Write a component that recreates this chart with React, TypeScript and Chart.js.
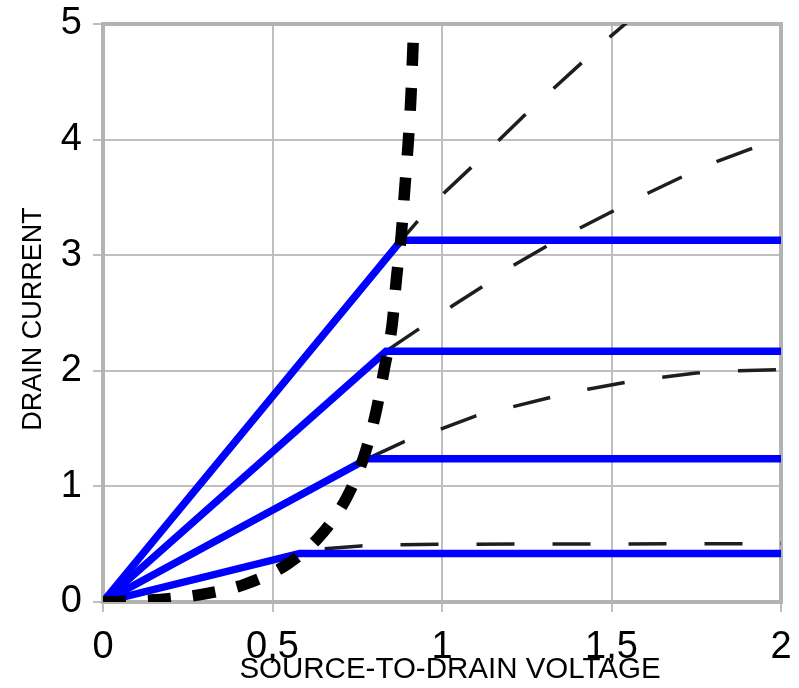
import React, { useEffect, useRef } from 'react';
import { Chart, registerables } from 'chart.js';

Chart.register(...registerables);

// Axis ticks
const xTicks = [0, 0.5, 1, 1.5, 2];
const yTicks = [0, 1, 2, 3, 4, 5];

// Blue saturation curves (solid)
const satX1 = [0, 0.58, 2];
const satY1 = [0, 0.42, 0.42];
const satX2 = [0, 0.78, 2];
const satY2 = [0, 1.24, 1.24];
const satX3 = [0, 0.835, 2];
const satY3 = [0, 2.17, 2.17];
const satX4 = [0, 0.88, 2];
const satY4 = [0, 3.13, 3.13];

// Thin dashed curves (continuation beyond the knee)
const dashX1 = [0, 0.58, 0.65, 0.76, 0.87, 1.0, 2];
const dashY1 = [0, 0.42, 0.46, 0.485, 0.496, 0.5, 0.505];
const dashX2 = [0, 0.78, 0.89, 1.0, 1.1, 1.21, 1.32, 1.43, 1.54, 1.64, 1.75, 1.86, 2];
const dashY2 = [0, 1.24, 1.39, 1.5, 1.61, 1.69, 1.77, 1.84, 1.9, 1.94, 1.98, 2.0, 2.01];
const dashX3 = [0, 0.835, 0.936, 1.03, 1.12, 1.21, 1.31, 1.41, 1.51, 1.61, 1.71, 1.81, 1.92, 2];
const dashY3 = [0, 2.17, 2.37, 2.56, 2.73, 2.91, 3.08, 3.24, 3.39, 3.54, 3.68, 3.81, 3.93, 3.98];
const dashX4 = [0, 0.88, 0.93, 1.01, 1.09, 1.17, 1.25, 1.5, 1.6];
const dashY4 = [0, 3.13, 3.3, 3.55, 3.77, 4.0, 4.23, 4.9, 5.15];

// Thick dashed locus curve
const locusX = [0, 0.1, 0.2, 0.3, 0.42, 0.545, 0.64, 0.72, 0.77, 0.805, 0.83, 0.853, 0.866, 0.88, 0.89, 0.9, 0.908, 0.915];
const locusY = [0, 0.01, 0.03, 0.07, 0.155, 0.33, 0.57, 0.91, 1.26, 1.64, 2.02, 2.4, 2.81, 3.18, 3.57, 3.96, 4.35, 4.85];

const xTitle = 'SOURCE-TO-DRAIN VOLTAGE';
const yTitle = 'DRAIN CURRENT';

const pts = (xs: number[], ys: number[]) => xs.map((x, i) => ({ x, y: ys[i] }));

const FONT = '"Liberation Sans", Arial, sans-serif';
const GRID = '#bfbfbf';

const borderPlugin = {
  id: 'frameBorder',
  beforeDatasetsDraw(chart: any) {
    const { ctx, chartArea } = chart;
    ctx.save();
    ctx.strokeStyle = '#b3b3b3';
    ctx.lineWidth = 4;
    ctx.strokeRect(chartArea.left, chartArea.top, chartArea.right - chartArea.left, chartArea.bottom - chartArea.top);
    ctx.restore();
  },
};

const titlesPlugin = {
  id: 'axisTitles',
  afterDraw(chart: any) {
    const { ctx, chartArea } = chart;
    ctx.save();
    ctx.fillStyle = '#000';
    ctx.textAlign = 'center';
    ctx.textBaseline = 'middle';
    ctx.font = `29.5px ${FONT}`;
    ctx.fillText(xTitle, (chartArea.left + chartArea.right) / 2 + 8, 669.5);
    ctx.translate(34, (chartArea.top + chartArea.bottom) / 2 + 6);
    ctx.rotate(-Math.PI / 2);
    ctx.font = `27px ${FONT}`;
    ctx.fillText(yTitle, 0, 0);
    ctx.restore();
  },
};

export default function App() {
  const ref = useRef<HTMLCanvasElement | null>(null);

  useEffect(() => {
    if (!ref.current) return;
    const thin = (xs: number[], ys: number[]) => ({
      data: pts(xs, ys),
      borderColor: '#1e1e1e',
      borderWidth: 3.5,
      borderDash: [38, 38],
      pointRadius: 0,
      tension: 0,
      order: 2,
      borderCapStyle: 'butt',
    });
    const blue = (xs: number[], ys: number[]) => ({
      data: pts(xs, ys),
      borderColor: '#0000ff',
      borderWidth: 7.5,
      pointRadius: 0,
      tension: 0,
      order: 1,
      borderJoinStyle: 'miter',
    });
    const chart = new Chart(ref.current, {
      type: 'line',
      data: {
        datasets: [
          {
            data: pts(locusX, locusY),
            borderColor: '#000000',
            borderWidth: 11.5,
            borderDash: [23, 22],
            pointRadius: 0,
            cubicInterpolationMode: 'monotone',
            order: 0,
          } as any,
          blue(satX1, satY1),
          blue(satX2, satY2),
          blue(satX3, satY3),
          blue(satX4, satY4),
          thin(dashX1, dashY1),
          thin(dashX2, dashY2),
          thin(dashX3, dashY3),
          thin(dashX4, dashY4),
        ],
      },
      options: {
        animation: false,
        responsive: false,
        devicePixelRatio: 1,
        layout: { padding: { top: 24, right: 18, left: 0, bottom: 0 } },
        plugins: { legend: { display: false }, tooltip: { enabled: false } },
        scales: {
          x: {
            type: 'linear',
            min: 0,
            max: 2,
            afterFit: (s: any) => { s.height = 86; s.paddingLeft = 0; s.paddingRight = 0; },
            afterBuildTicks: (s: any) => { s.ticks = xTicks.map((v) => ({ value: v })); },
            ticks: {
              font: { family: FONT, size: 38 },
              color: '#000',
              padding: 13,
              maxRotation: 0,
              autoSkip: false,
              callback: (v: any) => String(v).replace('.', ','),
            },
            grid: { color: GRID, lineWidth: 2, tickLength: 10, drawTicks: true },
            border: { display: false },
            title: { display: false },
          },
          y: {
            type: 'linear',
            min: 0,
            max: 5,
            afterFit: (s: any) => { s.width = 103; s.paddingTop = 0; s.paddingBottom = 0; },
            afterBuildTicks: (s: any) => { s.ticks = yTicks.map((v) => ({ value: v })); },
            ticks: {
              font: { family: FONT, size: 38 },
              color: '#000',
              padding: 11,
              autoSkip: false,
            },
            grid: { color: GRID, lineWidth: 2, tickLength: 10, drawTicks: true },
            border: { display: false },
            title: { display: false },
          },
        },
      } as any,
      plugins: [borderPlugin, titlesPlugin],
    });
    return () => chart.destroy();
  }, []);

  return (
    <div style={{ position: 'fixed', left: 0, top: 0, width: 799, height: 688, background: '#fff' }}>
      <canvas ref={ref} width={799} height={688} style={{ display: 'block' }} />
    </div>
  );
}
